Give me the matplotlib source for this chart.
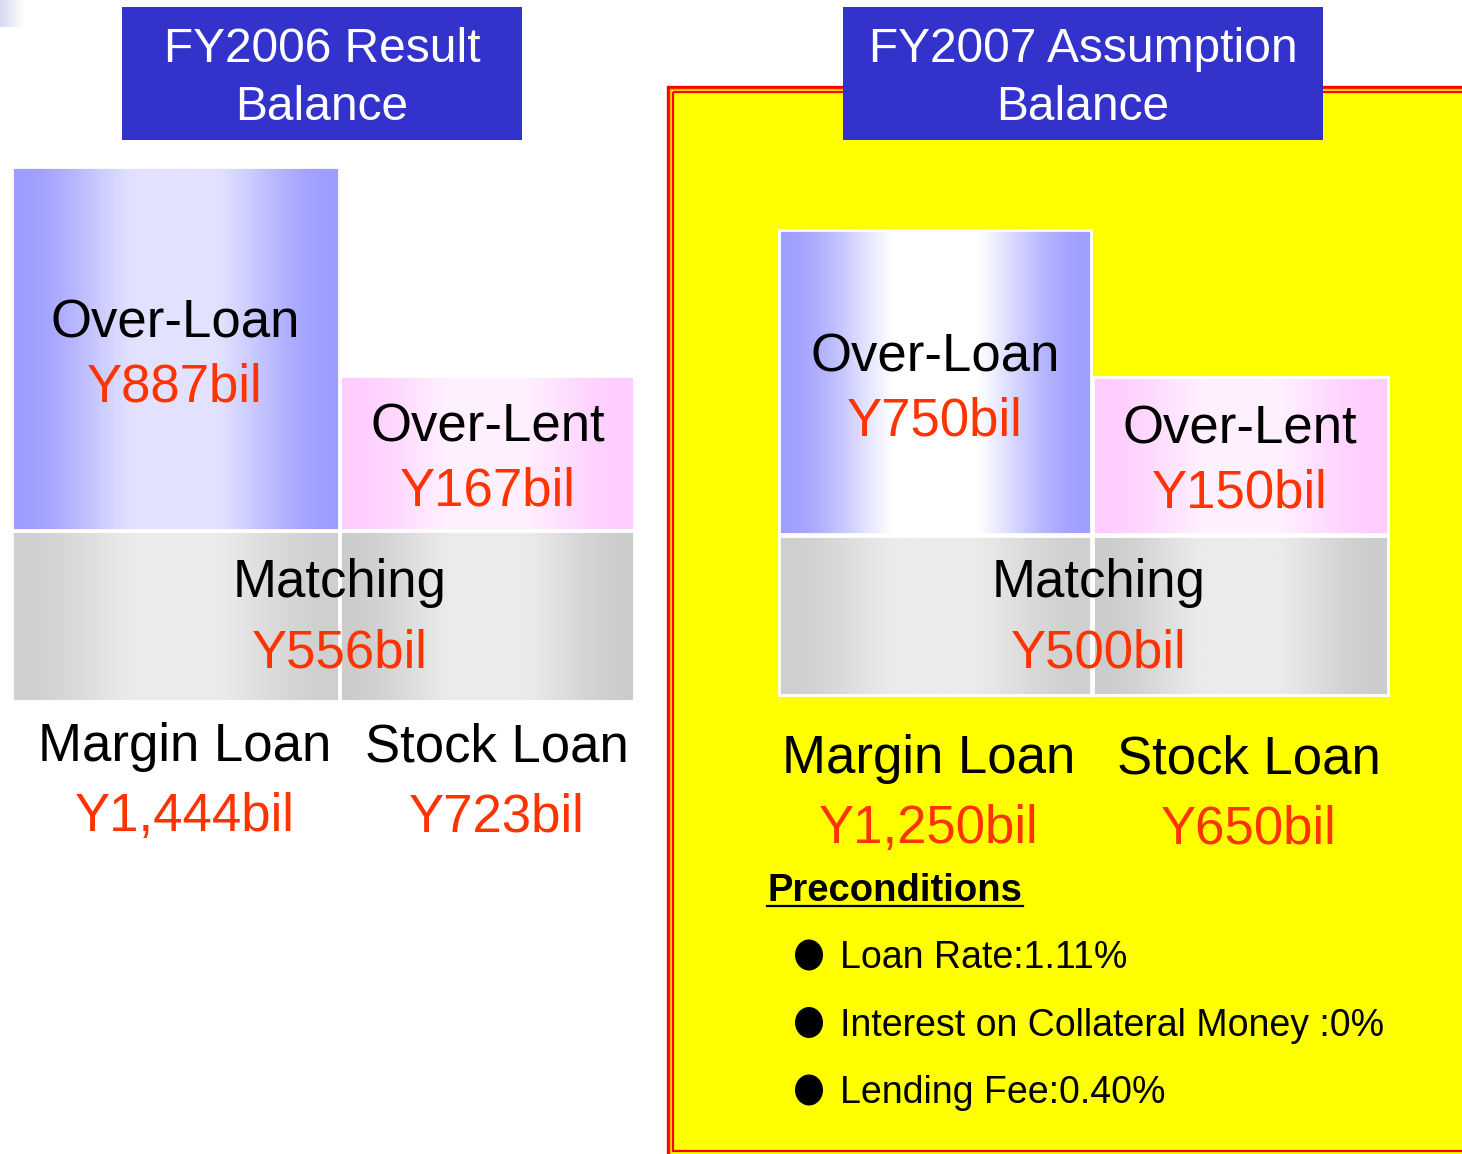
import numpy as np
import matplotlib
matplotlib.use('Agg')
import matplotlib.pyplot as plt
from matplotlib.patches import Rectangle, Ellipse
from matplotlib.colors import to_rgb

plt.rcParams['font.family'] = ['Liberation Sans', 'DejaVu Sans']

# balance figures (Y bil)
headers = ['FY2006 Result\nBalance', 'FY2007 Assumption\nBalance']
over_loan = [887, 750]
over_lent = [167, 150]
matching = [556, 500]
margin_loan = [1444, 1250]
stock_loan = [723, 650]
precondition_items = ['Loan Rate:1.11%', 'Interest on Collateral Money :0%', 'Lending Fee:0.40%']

BLUE = '#3333cc'
RED_TXT = '#ff3300'


def money(v):
    return f"Y{v:,}bil"


def grad_box(ax, x0, x1, y0, y1, edge, center, border='white'):
    """Horizontal gradient box: edge colour on both sides, lighter in the middle."""
    t = np.linspace(0, 1, 256)
    w = np.clip(np.sin(np.pi * t) ** 2 * 1.2, 0, 1)[:, None]
    c0, c1 = np.array(to_rgb(edge)), np.array(to_rgb(center))
    arr = (c0 * (1 - w) + c1 * w)[None, :, :]
    ax.imshow(arr, extent=(x0, x1, y1, y0), aspect='auto', interpolation='bilinear', zorder=2)
    ax.add_patch(Rectangle((x0, y0), x1 - x0, y1 - y0, fill=False, edgecolor=border, lw=2.0, zorder=3))


def two_lines(ax, x, y, top, bottom, size=38, gap=64):
    ax.text(x, y + 4, top, ha='center', va='center', fontsize=size, color='black', zorder=5)
    ax.text(x, y + gap + 4, bottom, ha='center', va='center', fontsize=size, color=RED_TXT, zorder=5)


fig = plt.figure(figsize=(14.62, 11.54), dpi=100)
ax = fig.add_axes([0, 0, 1, 1])
ax.set_xlim(0, 1462)
ax.set_ylim(1154, 0)
ax.axis('off')

# small leftover gradient in the top-left corner
t = np.linspace(0, 1, 64)[:, None]
corner = (np.array(to_rgb('#d8d8f2')) * (1 - t) + np.array([1, 1, 1]) * t)[None, :, :]
ax.imshow(corner, extent=(0, 24, 27, 0), aspect='auto', zorder=1)

# yellow panel with red double border
ax.add_patch(Rectangle((667.5, 86.5), 820, 1080, facecolor='#ffff00', edgecolor='#ff0000', lw=2.4, zorder=1))
ax.add_patch(Rectangle((669.8, 88.8), 820, 1070, fill=False, edgecolor='#ffb000', lw=1.0, zorder=1))
ax.add_patch(Rectangle((672.5, 91.5), 820, 1059.5, fill=False, edgecolor='#ff0000', lw=1.6, zorder=1))

# header boxes
for (x0, x1), text in zip([(122, 522), (843, 1323)], headers):
    ax.add_patch(Rectangle((x0, 7), x1 - x0, 133, facecolor=BLUE, edgecolor='none', zorder=4))
    l1, l2 = text.split('\n')
    ax.text((x0 + x1) / 2, 50, l1, ha='center', va='center', fontsize=34.5, color='white', zorder=5)
    ax.text((x0 + x1) / 2, 107, l2, ha='center', va='center', fontsize=34.5, color='white', zorder=5)

# left: FY2006
grad_box(ax, 12, 339, 167, 530, '#9d9dff', '#e2e2ff')
grad_box(ax, 340, 634, 376, 530, '#ffccff', '#fff0ff')
grad_box(ax, 12, 339, 531, 701, '#cfcfcf', '#ebebeb')
grad_box(ax, 340, 634, 531, 701, '#cccccc', '#ebebeb')
two_lines(ax, 175, 320, 'Over-Loan', money(over_loan[0]))
two_lines(ax, 488, 423, 'Over-Lent', money(over_lent[0]))
two_lines(ax, 340, 579, 'Matching', money(matching[0]), gap=70)
two_lines(ax, 185, 743, 'Margin Loan', money(margin_loan[0]), gap=70)
two_lines(ax, 497, 743, 'Stock Loan', money(stock_loan[0]), gap=70)

# right: FY2007
grad_box(ax, 779, 1091, 230, 534, '#9f9fff', '#ffffff')
grad_box(ax, 1093, 1388, 377, 534, '#ffccff', '#fff0ff')
grad_box(ax, 779, 1091, 536, 695, '#cfcfcf', '#ebebeb')
grad_box(ax, 1093, 1388, 536, 695, '#cccccc', '#ebebeb')
two_lines(ax, 935, 354, 'Over-Loan', money(over_loan[1]))
two_lines(ax, 1240, 426, 'Over-Lent', money(over_lent[1]))
two_lines(ax, 1099, 579, 'Matching', money(matching[1]), gap=70)
two_lines(ax, 929, 755, 'Margin Loan', money(margin_loan[1]), gap=70)
two_lines(ax, 1249, 755, 'Stock Loan', money(stock_loan[1]), gap=70)

# preconditions
ax.text(767, 891, 'Preconditions', ha='left', va='center', fontsize=27.5, fontweight='bold', zorder=5)
ax.plot([767, 1023], [906, 906], color='black', lw=1.6, zorder=5)
for i, item in enumerate(precondition_items):
    y = 955 + i * 67.5
    ax.add_patch(Ellipse((809, y), 28, 31, facecolor='black', zorder=5))
    ax.text(840, y + 3, item, ha='left', va='center', fontsize=27, zorder=5)

fig.savefig('out.png', dpi=100)
